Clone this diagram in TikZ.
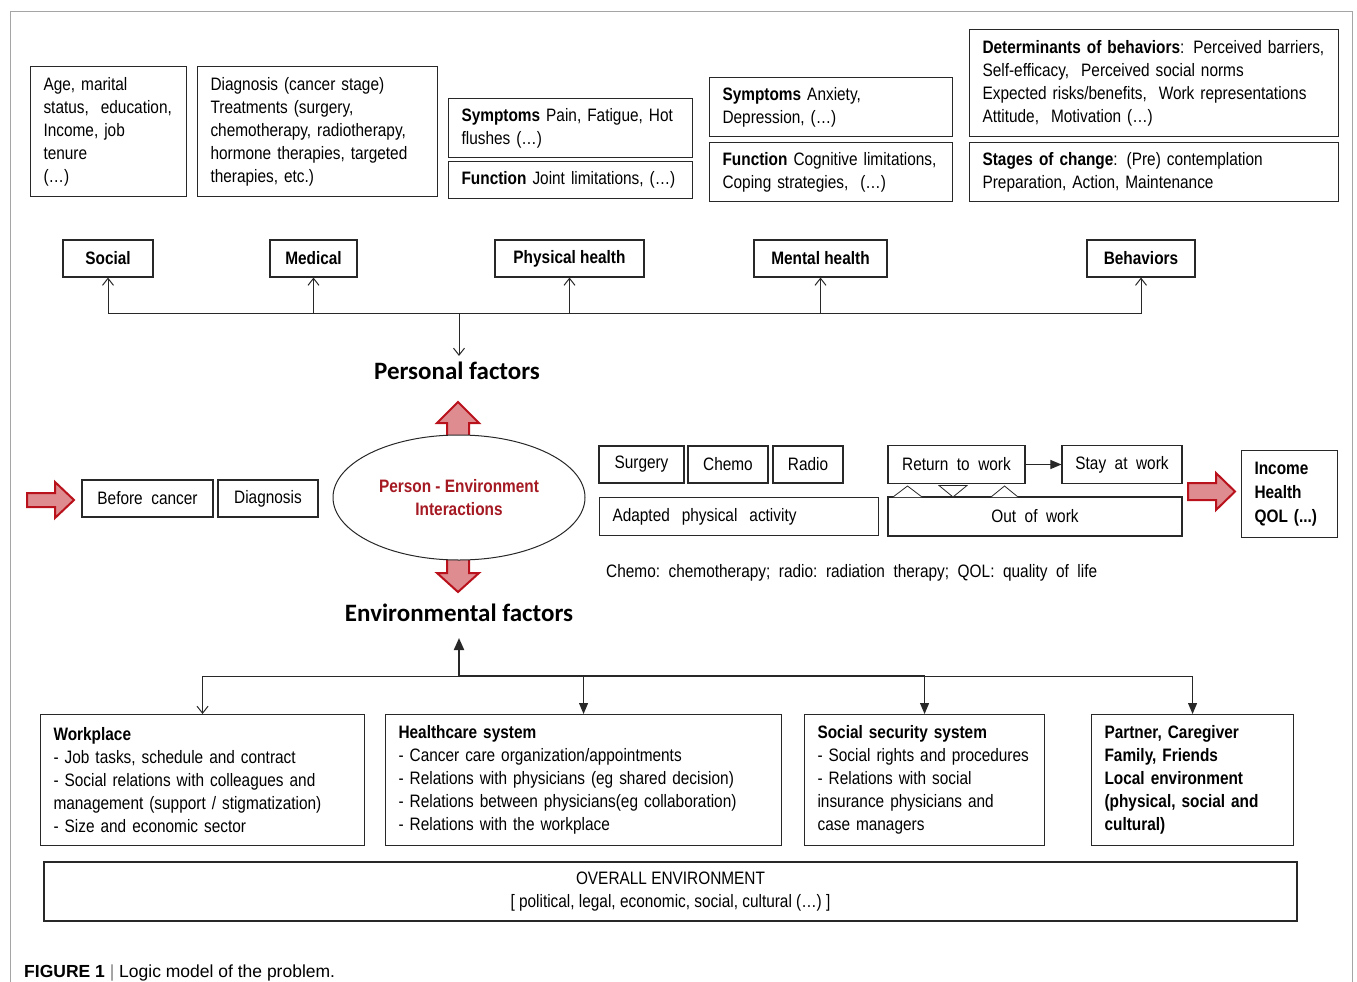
\documentclass[tikz,border=0pt]{standalone}
\usepackage{fontspec}
\setmainfont{Liberation Sans}[FakeStretch=0.855]
\newfontfamily\capfont{Liberation Sans}
\newfontfamily\hdfont{Carlito}
\usetikzlibrary{arrows.meta,shapes.geometric}
\definecolor{redfill}{RGB}{222,140,144}
\definecolor{redline}{RGB}{185,18,28}
\definecolor{redtext}{RGB}{165,25,35}
\definecolor{boxline}{RGB}{40,40,40}
\definecolor{framegray}{RGB}{165,165,165}
\newcommand{\fs}{\fontsize{18}{23}\selectfont}
\tikzset{
  bx/.style={draw=boxline, line width=1.1pt, inner xsep=13pt, inner ysep=0pt, align=left, anchor=north west, font=\fs},
  bbx/.style={draw=boxline, line width=1.1pt, inner sep=0pt, align=center, font=\fs},
  lab/.style={bbx, font=\fs\bfseries, minimum height=37pt},
  con/.style={draw=boxline, line width=1pt},
  oarr/.style={con, -{Straight Barb[length=7pt,width=11pt]}},
  farr/.style={con, -{Triangle[length=11pt,width=9pt]}},
  redarr/.style={fill=redfill, draw=redline, line width=2pt, line join=miter},
  hd/.style={font=\hdfont\bfseries\fontsize{25}{28}\selectfont, inner sep=2pt},
  tri/.style={draw=boxline, line width=0.8pt, fill=white, line join=miter}
}
\begin{document}
\begin{tikzpicture}[x=1pt,y=-1pt]
\useasboundingbox (0,0) rectangle (1357,982);
\draw[framegray, line width=1pt] (10,982) -- (10,12) -- (1352,12) -- (1352,982);

% top boxes
\node[bx, minimum width=156pt, minimum height=130pt, text width=130pt] (age) at (30,66)
  {Age, marital\\ status,\ \ education,\\ Income, job\\ tenure\\ (…)};
\node[bx, minimum width=240pt, minimum height=130pt, text width=214pt] (med) at (197,66)
  {Diagnosis (cancer stage)\\ Treatments (surgery,\\ chemotherapy, radiotherapy,\\ hormone therapies, targeted\\ therapies, etc.)};
\node[bx, minimum width=244pt, minimum height=59pt, text width=218pt] (phs) at (448,98)
  {\textbf{Symptoms} Pain, Fatigue, Hot\\ flushes (…)};
\node[bx, minimum width=244pt, minimum height=37pt, text width=218pt] (phf) at (448,161)
  {\mbox{\textbf{Function} Joint limitations, (…)}};
\node[bx, minimum width=243pt, minimum height=59pt, text width=217pt] (mhs) at (709,77)
  {\textbf{Symptoms} Anxiety,\\ Depression, (…)};
\node[bx, minimum width=243pt, minimum height=59pt, text width=217pt] (mhf) at (709,142)
  {\mbox{\textbf{Function} Cognitive limitations,}\\ Coping strategies,\ \ (…)};
\node[bx, minimum width=369pt, minimum height=107pt, text width=343pt] (bhd) at (969,29)
  {\mbox{\textbf{Determinants of behaviors}: Perceived barriers,}\\ Self-efficacy,\ \ Perceived social norms\\ \mbox{Expected risks/benefits,\ \ Work representations}\\ Attitude,\ \ Motivation (…)};
\node[bx, minimum width=369pt, minimum height=59pt, text width=343pt] (bhs) at (969,142)
  {\textbf{Stages of change}: (Pre) contemplation\\ Preparation, Action, Maintenance};

% label boxes
\node[lab, minimum width=90pt] (social) at (108,258.5) {Social};
\node[lab, minimum width=87pt] (medical) at (313.5,258.5) {Medical};
\node[lab, minimum width=149pt] (phys) at (569.5,258.5) {Physical health};
\node[lab, minimum width=133pt] (mental) at (820.5,258.5) {Mental health};
\node[lab, minimum width=108pt] (behav) at (1141,258.5) {Behaviors};

\node[hd] (pf) at (457,371) {Personal factors};
\coordinate (hubP) at (459,313);
\draw[oarr] (hubP) -| (social.south);
\draw[oarr] (hubP) -| (medical.south);
\draw[oarr] (hubP) -| (phys.south);
\draw[oarr] (hubP) -| (mental.south);
\draw[oarr] (hubP) -| (behav.south);
\draw[oarr, shorten >=4pt] (hubP) -- (hubP |- pf.north);

% red arrows
\draw[redarr] (447,440) -- (447,423) -- (437,423) -- (458,402) -- (479,423) -- (469,423) -- (469,440) -- cycle;
\draw[redarr] (447,556) -- (469,556) -- (469,573) -- (479,573) -- (458,592) -- (437,573) -- (447,573) -- cycle;
\draw[redarr] (27,493) -- (55,493) -- (55,482) -- (74,500) -- (55,518) -- (55,507) -- (27,507) -- cycle;
\draw[redarr] (1188,483) -- (1216,483) -- (1216,473) -- (1235,491.5) -- (1216,510) -- (1216,500) -- (1188,500) -- cycle;

\node[draw=boxline, line width=1pt, ellipse, fill=white, minimum width=252pt, minimum height=125pt, inner sep=0pt, align=center, font=\fs\bfseries, text=redtext] (pe) at (459,497.5)
  {Person - Environment\\ Interactions};

% middle row
\node[bbx, minimum width=131pt, minimum height=37pt] (bc) at (147.5,498.5) {Before\ \ cancer};
\node[bbx, minimum width=100pt, minimum height=37pt] (dg) at (268,498.5) {Diagnosis};
\node[bbx, minimum width=85pt, minimum height=37pt] (surg) at (641.5,464.5) {Surgery};
\node[bbx, minimum width=80pt, minimum height=37pt] (chemo) at (728,464.5) {Chemo};
\node[bbx, minimum width=70pt, minimum height=37pt] (radio) at (808,464.5) {Radio};
\node[bx, minimum width=279pt, minimum height=38pt, text width=253pt] (apa) at (599,497) {Adapted\ \ physical\ \ activity};
\node[bbx, minimum width=137pt, minimum height=38pt] (rtw) at (956.5,464.5) {Return\ \ to\ \ work};
\node[bbx, minimum width=120pt, minimum height=38pt] (saw) at (1122,464.5) {Stay\ \ at\ \ work};
\node[bbx, minimum width=294pt, minimum height=39pt] (oow) at (1035,516.5) {Out\ \ of\ \ work};
\draw[farr] (rtw) -- (saw);
\draw[tri] (893,497) -- (907.5,486) -- (922,497);
\draw[tri] (939,485.5) -- (953,497) -- (967,485.5) -- cycle;
\draw[tri] (991,497) -- (1004.5,486) -- (1018,497);
\node[bx, minimum width=96pt, minimum height=87pt, text width=70pt, font=\fontsize{18}{24}\selectfont\bfseries] (out) at (1241,450) {Income\\ Health\\ QOL (...)};

\node[anchor=west, font=\fs, inner sep=0pt] (note) at (606,573) {Chemo:\ \ chemotherapy;\ \ radio:\ \ radiation\ \ therapy;\ \ QOL:\ \ quality\ \ of\ \ life};

% environmental
\node[hd] (ef) at (459,613) {Environmental factors};
\node[bx, minimum width=324pt, minimum height=131pt, text width=298pt] (work) at (40,714)
  {\textbf{Workplace}\\ - Job tasks, schedule and contract\\ - Social relations with colleagues and\\ management (support / stigmatization)\\ - Size and economic sector};
\node[bx, minimum width=396pt, minimum height=131pt, text width=370pt] (hc) at (385,714)
  {\textbf{Healthcare system}\\ - Cancer care organization/appointments\\ - Relations with physicians (eg shared decision)\\ - Relations between physicians(eg collaboration)\\ - Relations with the workplace};
\node[bx, minimum width=240pt, minimum height=131pt, text width=214pt] (ss) at (804,714)
  {\textbf{Social security system}\\ \mbox{- Social rights and procedures}\\ - Relations with social\\ insurance physicians and\\ case managers};
\node[bx, minimum width=202pt, minimum height=131pt, text width=176pt, font=\fs\bfseries] (pc) at (1091,714)
  {Partner, Caregiver\\ Family, Friends\\ Local environment\\ (physical, social and\\ cultural)};
\node[bbx, minimum width=1253pt, minimum height=59pt] (ov) at (670.5,891.5)
  {OVERALL ENVIRONMENT\\ {[} political, legal, economic, social, cultural (…) ]};

\coordinate (hubE) at (459,676);
\draw[oarr] (hubE) -| (work.north);
\draw[farr] (hubE) -| (hc.north);
\draw[farr] (hubE) -| (ss.north);
\draw[farr] (hubE) -| (pc.north);
\draw[draw=boxline, line width=2.4pt] (hubE) -- (hubE -| ss.north);
\draw[draw=boxline, line width=2pt, -{Triangle[length=12pt,width=10pt]}] (hubE) -- (459,638);

\node[anchor=base west, inner sep=0pt, font=\capfont\fontsize{17.5}{20}\selectfont] (cap) at (24,977)
  {\textbf{FIGURE 1} {\color{gray}|} Logic model of the problem.};
\end{tikzpicture}
\end{document}
